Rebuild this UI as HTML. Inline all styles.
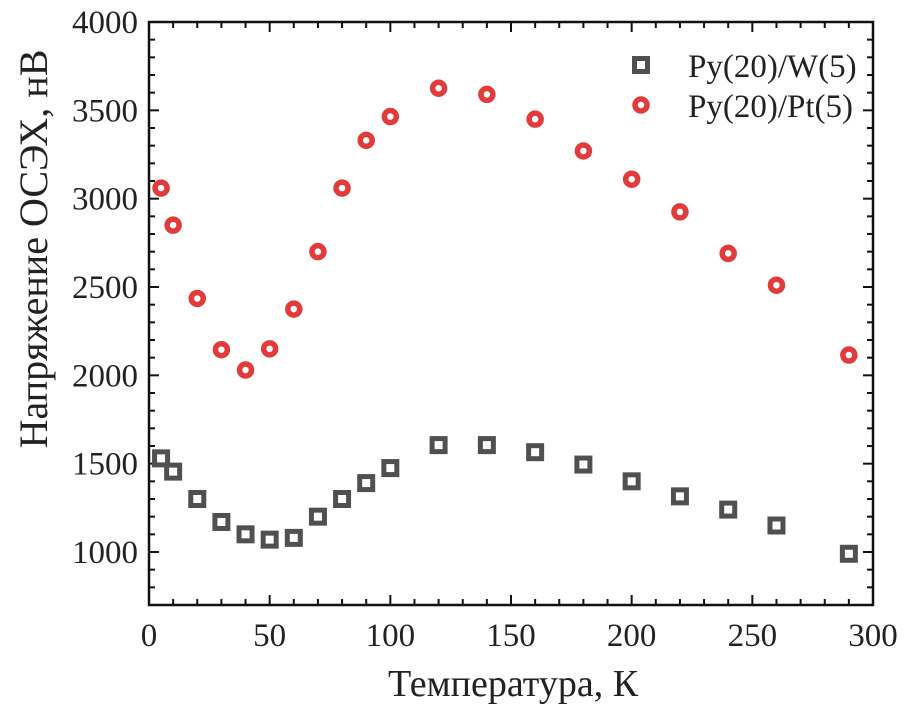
<!DOCTYPE html>
<html><head><meta charset="utf-8"><style>
html,body{margin:0;padding:0;background:#fff;}
svg{display:block;font-family:"Liberation Serif","DejaVu Serif",serif;}
</style></head><body>
<svg id="chart" width="914" height="727" viewBox="0 0 914 727" xmlns="http://www.w3.org/2000/svg">
<g id="axes"></g>
<g id="marks"></g>
<text x="513" y="696" font-size="38" text-anchor="middle" fill="#222">Температура, К</text>
<text transform="translate(47,249) rotate(-90)" font-size="40" text-anchor="middle" fill="#222">Напряжение ОСЭХ, нВ</text>
<g>
<rect x="634.5" y="58.5" width="13" height="13" fill="none" stroke="#505050" stroke-width="5"/>
<text x="688" y="77" font-size="33" fill="#222">Py(20)/W(5)</text>
<circle cx="641" cy="105" r="6" fill="#fff" stroke="#e23b3b" stroke-width="5.5"/>
<text x="688" y="117" font-size="33" fill="#222">Py(20)/Pt(5)</text>
</g>
</svg>
<script>
const temps = [5,10,20,30,40,50,60,70,80,90,100,120,140,160,180,200,220,240,260,290];
const wValues = [1530,1455,1300,1170,1100,1070,1080,1200,1300,1390,1475,1605,1605,1565,1495,1400,1315,1240,1150,990];
const ptValues = [3060,2850,2435,2145,2030,2150,2375,2700,3060,3330,3465,3625,3590,3450,3270,3110,2925,2690,2510,2115];
const xTicks = [0,50,100,150,200,250,300];
const yTicks = [1000,1500,2000,2500,3000,3500,4000];

const X0=149, X1=873, Y0=605, Y1=22, XMIN=0, XMAX=300, YMIN=700, YMAX=4000;
const sx = v => X0 + (v-XMIN)/(XMAX-XMIN)*(X1-X0);
const sy = v => Y0 - (v-YMIN)/(YMAX-YMIN)*(Y0-Y1);
const NS="http://www.w3.org/2000/svg";
const axes=document.getElementById('axes'), marks=document.getElementById('marks');
function mk(tag, attrs, parent){const e=document.createElementNS(NS,tag);for(const k in attrs)e.setAttribute(k,attrs[k]);parent.appendChild(e);return e;}

const frame=mk('rect',{x:X0,y:Y1,width:X1-X0,height:Y0-Y1,fill:'none',stroke:'#111','stroke-width':2.5},axes);



for(let v=XMIN; v<=XMAX; v+=10){
  const major = v%50===0, L = major?10:6, x=sx(v);
  const t1=mk('line',{x1:x,y1:Y0,x2:x,y2:Y0-L,stroke:'#111','stroke-width':2},axes);
  
  
  const t2=mk('line',{x1:x,y1:Y1,x2:x,y2:Y1+L,stroke:'#111','stroke-width':2},axes);
  
  
}
for(let v=YMIN; v<=YMAX; v+=100){
  const major = v%500===0, L = major?10:6, y=sy(v);
  const t1=mk('line',{x1:X0,y1:y,x2:X0+L,y2:y,stroke:'#111','stroke-width':2},axes);
  
  
  const t2=mk('line',{x1:X1,y1:y,x2:X1-L,y2:y,stroke:'#111','stroke-width':2},axes);
  
  
}
xTicks.forEach(v=>{
  const t=mk('text',{x:sx(v),y:646,'font-size':33,'text-anchor':'middle',fill:'#222'},axes);
  t.textContent=v;
  
  
});
yTicks.forEach(v=>{
  const t=mk('text',{x:138,y:sy(v)+11,'font-size':33,'text-anchor':'end',fill:'#222'},axes);
  t.textContent=v;
  
  
});
temps.forEach((t,i)=>{
  const r=mk('rect',{x:sx(t)-6.5,y:sy(wValues[i])-6.5,width:13,height:13,fill:'none',stroke:'#505050','stroke-width':5},marks);
  
  
});
temps.forEach((t,i)=>{
  const c=mk('circle',{cx:sx(t),cy:sy(ptValues[i]),r:6,fill:'#fff',stroke:'#e23b3b','stroke-width':5.5},marks);
  
  
});
</script>
</body></html>
